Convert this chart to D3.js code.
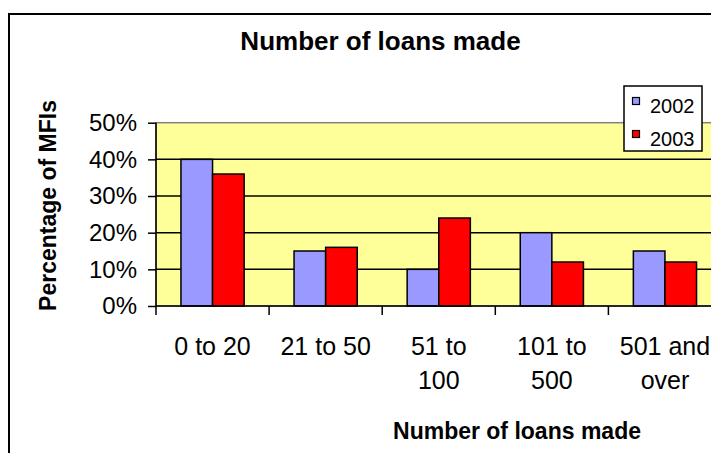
<!DOCTYPE html>
<html>
<head>
<meta charset="utf-8">
<script src="https://cdn.jsdelivr.net/npm/d3@7"></script>
<style>
  html, body { margin: 0; padding: 0; background: #fff; }
  svg { display: block; font-family: "Liberation Sans", Arial, sans-serif; }
</style>
</head>
<body>
<svg id="chart" width="711" height="453"></svg>
<script>
// Loan-size bands and the share of MFIs falling in each one
const categories = [["0 to 20"], ["21 to 50"], ["51 to", "100"], ["101 to", "500"], ["501 and", "over"]];
const seriesNames = ["2002", "2003"];
const values2002 = [0.40, 0.15, 0.10, 0.20, 0.15];
const values2003 = [0.36, 0.16, 0.24, 0.12, 0.12];
const yTicks = [0, 0.1, 0.2, 0.3, 0.4, 0.5];
const colors = { "2002": "#9999FF", "2003": "#FF0000" };

const svg = d3.select("#chart");
const catKeys = categories.map(c => c.join(" "));
const seriesValues = { "2002": values2002, "2003": values2003 };

// Plot area
const plot = { left: 156, top: 122.7, right: 721.5, bottom: 306 };

// Outer chart frame (continues past the right and bottom edges)
svg.append("rect")
  .attr("x", 9).attr("y", 14)
  .attr("width", 760).attr("height", 500)
  .attr("fill", "#fff").attr("stroke", "#000").attr("stroke-width", 2);

const x0 = d3.scaleBand().domain(catKeys).range([plot.left, plot.right]).paddingInner(0).paddingOuter(0);
const x1 = d3.scaleBand().domain(seriesNames).range([0, x0.bandwidth()]).paddingInner(0).paddingOuter(0.79);
const y = d3.scaleLinear().domain([0, 0.5]).range([plot.bottom, plot.top]);

// Plot background
svg.append("rect")
  .attr("x", plot.left).attr("y", plot.top)
  .attr("width", plot.right - plot.left).attr("height", plot.bottom - plot.top)
  .attr("fill", "#FFFF99").attr("stroke", "#808080").attr("stroke-width", 1.5);

// Horizontal gridlines
svg.append("g").selectAll("line")
  .data(yTicks.filter(t => t > 0 && t < 0.5))
  .join("line")
  .attr("x1", plot.left).attr("x2", plot.right)
  .attr("y1", d => y(d)).attr("y2", d => y(d))
  .attr("stroke", "#000").attr("stroke-width", 1.5);

// Bars
const groups = svg.append("g").selectAll("g")
  .data(catKeys)
  .join("g")
  .attr("transform", d => `translate(${x0(d)},0)`);

groups.selectAll("rect")
  .data((d, i) => seriesNames.map(s => ({ s, v: seriesValues[s][i] })))
  .join("rect")
  .attr("x", d => x1(d.s))
  .attr("width", x1.bandwidth())
  .attr("y", d => y(d.v))
  .attr("height", d => y(0) - y(d.v))
  .attr("fill", d => colors[d.s])
  .attr("stroke", "#000").attr("stroke-width", 1.5);

// Y axis
const yAxis = svg.append("g")
  .attr("transform", `translate(${plot.left},0)`)
  .call(d3.axisLeft(y).tickValues(yTicks).tickFormat(d3.format(".0%")).tickSize(8).tickPadding(11));
yAxis.select(".domain").attr("stroke-width", 1.5).attr("d", `M0,${plot.top}V${plot.bottom}`);
yAxis.selectAll(".tick line").attr("stroke-width", 1.5);
yAxis.selectAll(".tick text").attr("font-size", 24).attr("font-family", "Liberation Sans, Arial, sans-serif").attr("fill", "#000");

// X axis line with ticks at category boundaries
const boundaries = catKeys.map(k => x0(k)).concat([plot.right]);
svg.append("line")
  .attr("x1", plot.left).attr("x2", plot.right)
  .attr("y1", plot.bottom).attr("y2", plot.bottom)
  .attr("stroke", "#000").attr("stroke-width", 1.5);
svg.append("g").selectAll("line")
  .data(boundaries)
  .join("line")
  .attr("x1", d => d).attr("x2", d => d)
  .attr("y1", plot.bottom).attr("y2", plot.bottom + 9)
  .attr("stroke", "#000").attr("stroke-width", 1.5);

// Category labels (wrapped onto two lines where needed)
const catLabels = svg.append("g").selectAll("text")
  .data(categories)
  .join("text")
  .attr("text-anchor", "middle")
  .attr("font-size", 25)
  .attr("fill", "#000")
  .attr("x", (d, i) => x0(catKeys[i]) + x0.bandwidth() / 2)
  .attr("y", 355);
catLabels.selectAll("tspan")
  .data(d => d)
  .join("tspan")
  .attr("x", function () { return d3.select(this.parentNode).attr("x"); })
  .attr("dy", (d, i) => i === 0 ? 0 : 34)
  .text(d => d);

// Titles
svg.append("text")
  .attr("x", 380.5).attr("y", 49.5)
  .attr("text-anchor", "middle")
  .attr("font-size", 26).attr("font-weight", "bold")
  .text("Number of loans made");

svg.append("text")
  .attr("x", 517).attr("y", 439)
  .attr("text-anchor", "middle")
  .attr("font-size", 23).attr("font-weight", "bold")
  .text("Number of loans made");

svg.append("text")
  .attr("transform", "translate(56,205.5) rotate(-90)")
  .attr("text-anchor", "middle")
  .attr("font-size", 23).attr("font-weight", "bold")
  .text("Percentage of MFIs");

// Legend
const legend = svg.append("g").attr("transform", "translate(624,86)");
legend.append("rect")
  .attr("width", 78).attr("height", 65)
  .attr("fill", "#fff").attr("stroke", "#000").attr("stroke-width", 1.5);
const items = legend.selectAll("g.item")
  .data(seriesNames)
  .join("g")
  .attr("class", "item")
  .attr("transform", (d, i) => `translate(0,${i * 33})`);
items.append("rect")
  .attr("x", 8.5).attr("y", 11.5)
  .attr("width", 7).attr("height", 7)
  .attr("fill", d => colors[d])
  .attr("stroke", "#000").attr("stroke-width", 1.2);
items.append("text")
  .attr("x", 26).attr("y", 27)
  .attr("font-size", 20)
  .attr("fill", "#000")
  .text(d => d);
</script>
</body>
</html>
